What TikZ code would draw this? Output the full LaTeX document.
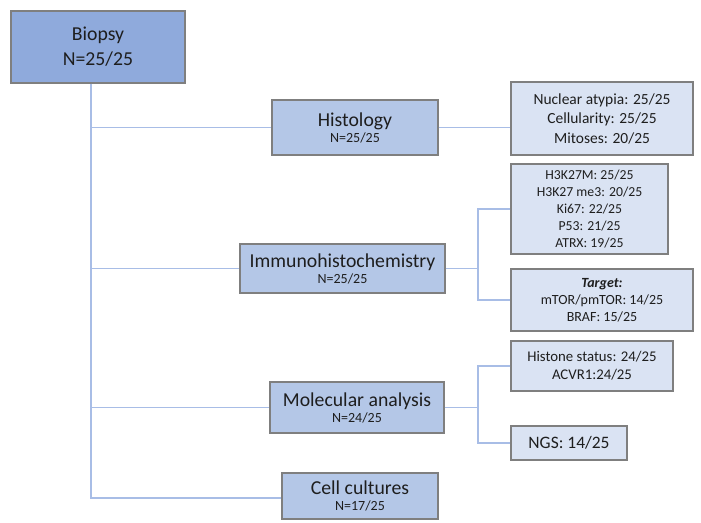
\documentclass[tikz,border=0pt]{standalone}
\usepackage{fontspec}
\setmainfont{Carlito}
\usepackage{tikz}
\usetikzlibrary{positioning}

\definecolor{biopsyblue}{HTML}{8FAADC}
\definecolor{stageblue}{HTML}{B4C7E7}
\definecolor{detailblue}{HTML}{DAE3F3}
\definecolor{boxgray}{HTML}{7F7F7F}
\definecolor{linkblue}{HTML}{A8BDE6}
\definecolor{textgray}{HTML}{1E1E1E}

\newcommand{\fsz}[2]{\fontsize{#1}{#2}\selectfont}

\begin{document}
\begin{tikzpicture}[x=0.75pt,y=-0.75pt,
  basebox/.style={draw=boxgray,line width=0.8pt,align=center,inner sep=0pt,
    text=textgray,minimum width=#1},
  biopsybox/.style={basebox=130.5pt,fill=biopsyblue,minimum height=54pt,
    font=\fsz{14.8}{18.75}},
  stagebox/.style={basebox=#1,fill=stageblue},
  detailbox/.style={basebox=#1,fill=detailblue},
  link/.style={draw=linkblue,line width=0.9pt}]

  \useasboundingbox (0,0) rectangle (701,523);

  % Campione
  \node[biopsybox] (biopsy) at (98,47) {Biopsy\\N=25/25};

  % Analisi
  \node[stagebox=124.5pt,minimum height=41.25pt] (histo) at (355,127.5)
    {\fsz{14.8}{15}Histology\\\fsz{10.5}{15}N=25/25};
  \node[stagebox=153.75pt,minimum height=36.75pt] (ihc) at (342.5,268.5)
    {\fsz{14.8}{15}Immunohistochemistry\\\fsz{10.5}{15}N=25/25};
  \node[stagebox=130.5pt,minimum height=38.25pt] (mol) at (357,407.5)
    {\fsz{14.8}{15}Molecular analysis\\\fsz{10.5}{15}N=24/25};
  \node[stagebox=117pt,minimum height=34.5pt] (cell) at (360,496)
    {\fsz{14.8}{15}Cell cultures\\\fsz{10.5}{15}N=17/25};

  % Risultati
  \node[detailbox=136.5pt,minimum height=54.75pt,font=\fsz{11.6}{14.6}]
    (histodet) at (602,118.5)
    {Nuclear atypia: 25/25\\Cellularity: 25/25\\Mitoses: 20/25};
  \node[detailbox=117.75pt,minimum height=67.5pt,font=\fsz{10.3}{12.75}]
    (ihcmark) at (589.5,209)
    {H3K27M: 25/25\\H3K27 me3: 20/25\\Ki67: 22/25\\P53: 21/25\\ATRX: 19/25};
  \node[detailbox=136.5pt,minimum height=46.5pt,font=\fsz{10.5}{12.75}]
    (ihctarget) at (602,300)
    {\textbf{\textit{Target:}}\\mTOR/pmTOR: 14/25\\BRAF: 15/25};
  \node[detailbox=121.5pt,minimum height=37.5pt,font=\fsz{11.1}{13.5}]
    (molhist) at (592,366)
    {Histone status: 24/25\\ACVR1:24/25};
  \node[detailbox=87pt,minimum height=25.5pt,font=\fsz{13.1}{15}]
    (molngs) at (569,443) {NGS: 14/25};

  % Collegamenti
  \coordinate (trunk) at (91,498);
  \coordinate (ihcfork) at (478,268.5);
  \coordinate (molfork) at (478,407.5);

  \path[link] (biopsy.south -| trunk) -- (trunk) -- (cell.west |- trunk);
  \path[link] (trunk |- histo.west) -- (histo.west);
  \path[link] (trunk |- ihc.west) -- (ihc.west);
  \path[link] (trunk |- mol.west) -- (mol.west);

  \path[link] (histo.east) -- (histodet.west |- histo.east);

  \path[link] (ihc.east) -- (ihcfork);
  \path[link] (ihcmark.west) -| (ihcfork) |- (ihctarget.west);

  \path[link] (mol.east) -- (molfork);
  \path[link] (molhist.west) -| (molfork) |- (molngs.west);

\end{tikzpicture}
\end{document}
